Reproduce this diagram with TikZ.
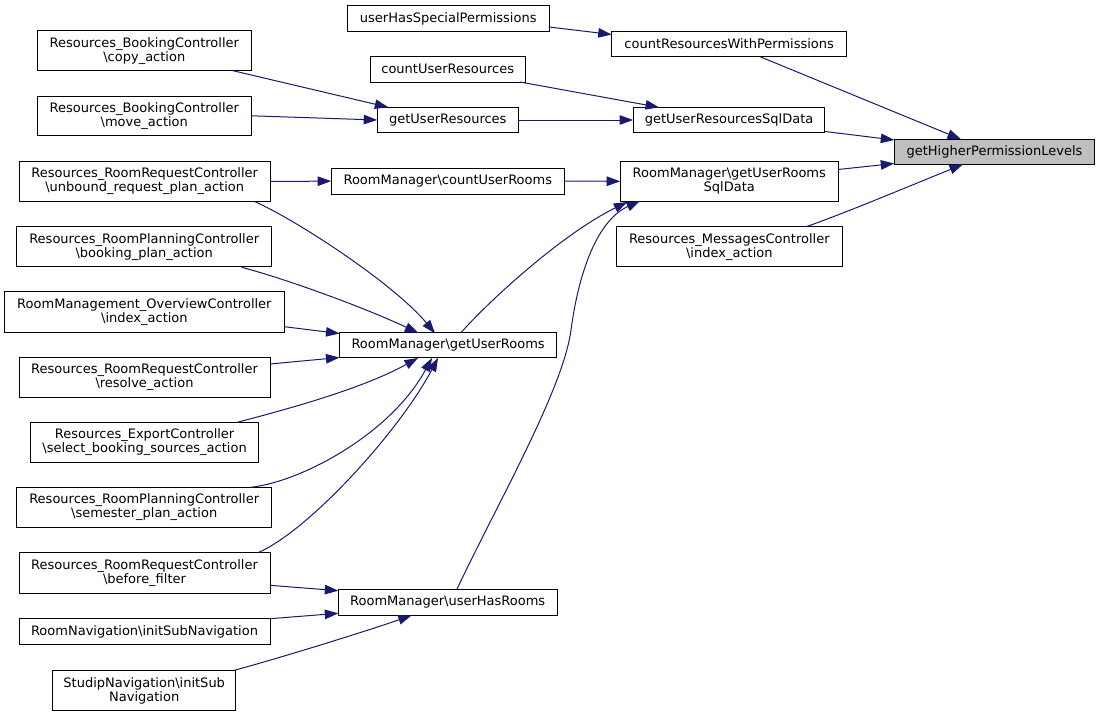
\documentclass[tikz,border=0pt]{standalone}
\usepackage{fontspec}
\setmainfont{DejaVu Sans}
\usetikzlibrary{arrows.meta,calc}
\definecolor{edgecol}{HTML}{191970}
\definecolor{hilite}{HTML}{BFBFBF}
\newcommand\dxbs{\textbackslash{}}
\begin{document}
\begin{tikzpicture}[x=1pt,y=-1pt,
  box/.style={draw=black,line width=0.9pt,fill=white,inner sep=0pt,align=center,
    font=\fontsize{13}{14}\selectfont},
  edge/.style={draw=edgecol,line width=1pt,-{Triangle[length=13.5pt,width=9.5pt]}}]
\useasboundingbox (0,0) rectangle (1100,717);
% nodes
\node[box,minimum width=201.5,minimum height=25.6] (uhsp) at (448.2,18.5) {userHasSpecialPermissions};
\node[box,minimum width=235,minimum height=25.2] (crwp) at (729.2,44.1) {countResourcesWithPermissions};
\node[box,minimum width=154.7,minimum height=25.3] (cur) at (447.7,69.3) {countUserResources};
\node[box,minimum width=140.3,minimum height=25.4] (gur) at (447.8,120) {getUserResources};
\node[box,minimum width=191.2,minimum height=25.4] (gursql) at (729.1,120) {getUserResourcesSqlData};
\node[box,fill=hilite,minimum width=200.4,minimum height=25] (ghpl) at (994.5,151.8) {getHigherPermissionLevels};
\node[box,minimum width=213.3,minimum height=39.7] (copy) at (144.3,50.8) {Resources\_BookingController\\\dxbs copy\_action};
\node[box,minimum width=213.3,minimum height=39.7] (move) at (144.3,115.8) {Resources\_BookingController\\\dxbs move\_action};
\node[box,minimum width=251.5,minimum height=39.6] (unbound) at (144.7,181.5) {Resources\_RoomRequestController\\\dxbs unbound\_request\_plan\_action};
\node[box,minimum width=232.3,minimum height=25.7] (curooms) at (447.8,181.1) {RoomManager\dxbs countUserRooms};
\node[box,minimum width=217.3,minimum height=39.3] (gursr) at (729.3,181.3) {RoomManager\dxbs getUserRooms\\SqlData};
\node[box,minimum width=225.3,minimum height=40] (msg) at (729.3,246.7) {Resources\_MessagesController\\\dxbs index\_action};
\node[box,minimum width=254.9,minimum height=40] (booking) at (144.2,246.7) {Resources\_RoomPlanningController\\\dxbs booking\_plan\_action};
\node[box,minimum width=279.7,minimum height=40.3] (overview) at (144.4,311.8) {RoomManagement\_OverviewController\\\dxbs index\_action};
\node[box,minimum width=251,minimum height=40] (resolve) at (144.5,377) {Resources\_RoomRequestController\\\dxbs resolve\_action};
\node[box,minimum width=228.1,minimum height=40] (export) at (144.6,442.3) {Resources\_ExportController\\\dxbs select\_booking\_sources\_action};
\node[box,minimum width=254.9,minimum height=40.4] (semester) at (144.2,507.5) {Resources\_RoomPlanningController\\\dxbs semester\_plan\_action};
\node[box,minimum width=217.3,minimum height=25] (gurooms) at (448.1,345.2) {RoomManager\dxbs getUserRooms};
\node[box,minimum width=251,minimum height=40.3] (before) at (144.5,572.8) {Resources\_RoomRequestController\\\dxbs before\_filter};
\node[box,minimum width=251,minimum height=26] (roomnav) at (144.5,631.7) {RoomNavigation\dxbs initSubNavigation};
\node[box,minimum width=182.9,minimum height=40.4] (studip) at (144.2,690.5) {StudipNavigation\dxbs initSub\\Navigation};
\node[box,minimum width=218.9,minimum height=25.6] (uhr) at (447.7,602.5) {RoomManager\dxbs userHasRooms};
\coordinate (bend) at (571,330);
% edges
\draw[edge] ($(uhsp)+(100.8,8.5)$) -- ($(crwp)+(-117.5,-9.6)$);
\draw[edge] ($(crwp)+(30.8,12.6)$) -- ($(ghpl)+(-33.5,-12.5)$);
\draw[edge] ($(gursql)+(95.9,11.5)$) -- ($(ghpl)+(-100.2,-11.8)$);
\draw[edge] ($(gursr)+(108.7,-11.8)$) -- ($(ghpl)+(-100.2,11.7)$);
\draw[edge] ($(msg)+(76.7,-20)$) .. controls +(34,-11.7) and +(-63,25.7) .. ($(ghpl)+(-31.5,12.5)$);
\draw[edge] ($(cur)+(72.3,12.7)$) -- ($(gursql)+(-70.1,-12.7)$);
\draw[edge] (gur.east) -- (gursql.west);
\draw[edge] ($(copy)+(88.7,19.9)$) -- ($(gur)+(-59.5,-12.7)$);
\draw[edge] (move.east) -- (gur.west);
\draw[edge] (unbound.east) -- (curooms.west);
\draw[edge] (curooms.east) -- (gursr.west);
\draw[edge] ($(gurooms)+(12.9,-12.5)$) .. controls +(24,-27.7) and +(-67.3,33) .. ($(gursr)+(-102,20.7)$);
\draw[edge] ($(uhr)+(9,-12.8)$) .. controls +(40,-85) and +(-8,60) .. (bend)
   .. controls +(8,-60) and +(-42,19) .. ($(gursr)+(-89.3,19.7)$);
\draw[edge] ($(unbound)+(110.3,20.2)$) .. controls +(45,20.3) and +(-40,-48.3) .. ($(gurooms)+(-13.1,-11.9)$);
\draw[edge] ($(booking)+(97.5,20.6)$) .. controls +(48.3,12.7) and +(-48.3,-23) .. ($(gurooms)+(-29.8,-12.2)$);
\draw[edge] ($(overview)+(139.9,14.9)$) -- ($(gurooms)+(-108.6,-11.7)$);
\draw[edge] ($(resolve)+(125.5,-13)$) -- ($(gurooms)+(-108.6,12.3)$);
\draw[edge] ($(export)+(92.7,-20)$) .. controls +(42.7,-11.3) and +(-58,32) .. ($(gurooms)+(-30.1,12.8)$);
\draw[edge] ($(semester)+(106.5,-20.2)$) .. controls +(49.3,-5.3) and +(-42,77) .. ($(gurooms)+(-16.1,12.8)$);
\draw[edge] ($(before)+(113.5,-20.1)$) .. controls +(52,-22.7) and +(-38,72) .. ($(gurooms)+(-10.1,12.8)$);
\draw[edge] ($(before)+(125.5,12.5)$) -- ($(uhr)+(-109.4,-11.8)$);
\draw[edge] ($(roomnav)+(125.5,-13)$) -- ($(uhr)+(-109.4,10.8)$);
\draw[edge] ($(studip)+(90,-20.2)$) .. controls +(45.8,-12.3) and +(-41.7,14.7) .. ($(uhr)+(-36,12.8)$);
\end{tikzpicture}
\end{document}
